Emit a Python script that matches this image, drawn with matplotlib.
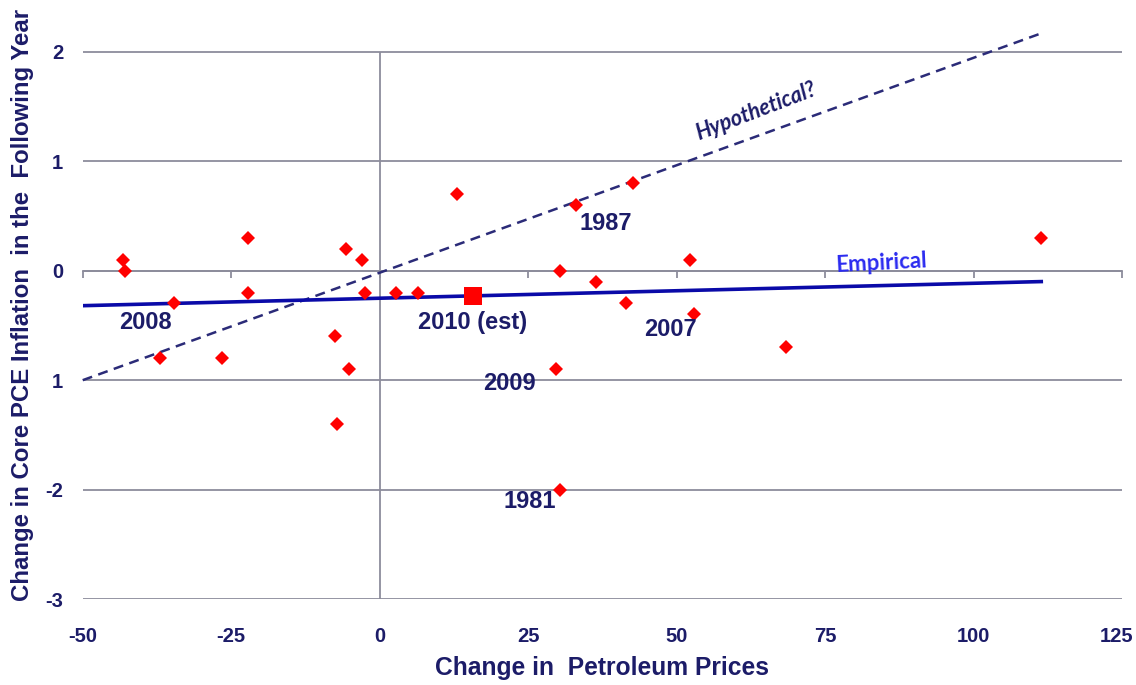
# Oil price changes vs. following-year change in core PCE inflation

import matplotlib
matplotlib.use('Agg')
import matplotlib.pyplot as plt
from matplotlib.transforms import offset_copy

plt.rcParams['axes.unicode_minus'] = False

# change in petroleum prices (%) and change in core PCE inflation next year
oil_change = [-43.2, -42.8, -34.7, -37.0, -22.1, -22.1, -26.6, -5.6, -2.9, -2.5,
              -7.5, -5.1, -7.2, 2.8, 6.4, 13.0, 33.1, 42.6, 30.4, 36.4,
              41.5, 52.3, 52.9, 68.4, 29.7, 30.4, 111.4]
pce_change = [0.1, 0.0, -0.3, -0.8, 0.3, -0.2, -0.8, 0.2, 0.1, -0.2,
              -0.6, -0.9, -1.4, -0.2, -0.2, 0.7, 0.6, 0.8, 0.0, -0.1,
              -0.3, 0.1, -0.4, -0.7, -0.9, -2.0, 0.3]

# 2010 estimate
est_x = [15.7]
est_y = [-0.23]

# fitted lines (end points)
emp_x = [-50, 111.4]
emp_y = [-0.32, -0.10]
hyp_x = [-50, 111.6]
hyp_y = [-1.0, 2.17]

# year labels
year_text = ['2008', '2010 (est)', '2009', '1981', '1987', '2007']
year_x = [-39.4, 15.7, 21.9, 25.3, 38.1, 48.9]
year_y = [-0.47, -0.47, -1.03, -2.11, 0.43, -0.54]

x_ticks = [-50, -25, 0, 25, 50, 75, 100, 125]
y_ticks = [-3, -2, -1, 0, 1, 2]
y_tick_labels = ['-3', '-2', '1', '0', '1', '2']

navy = '#1c1c68'
grid_c = '#8c8c9c'

fig = plt.figure(figsize=(11.36, 6.85), dpi=100)
ax = fig.add_axes([0.0728, 0.1251, 0.9149, 0.8397])
ax.set_xlim(-50, 125)
ax.set_ylim(-3, 2.25)

for s in ax.spines.values():
    s.set_visible(False)

ax.set_yticks(y_ticks)
ax.set_yticklabels(y_tick_labels)
ax.set_xticks(x_ticks)
ax.tick_params(axis='both', length=0, labelcolor=navy)
ax.tick_params(axis='y', labelsize=14.5, pad=14)
ax.tick_params(axis='x', labelsize=14.5, pad=20)
for lab in ax.get_xticklabels() + ax.get_yticklabels():
    lab.set_fontweight('bold')
    lab.set_family('Liberation Sans')
ax.grid(axis='y', color=grid_c, linewidth=1.3)
ax.set_axisbelow(True)

# keep the last x label inside the figure
last = ax.xaxis.get_major_ticks()[-1].label1
last.set_transform(offset_copy(last.get_transform(), fig=fig, x=-5, units='dots'))

# vertical axis line at x = 0
ax.vlines(0, -3, 2, color=grid_c, linewidth=1.3, zorder=1)

# axis along y = 0 with small tick marks
sec = ax.secondary_xaxis(0, transform=ax.transData)
sec.set_xticks(x_ticks)
sec.tick_params(length=5, width=1.3, color=grid_c, labelbottom=False, direction='out')
sec.spines['bottom'].set_color(grid_c)
sec.spines['bottom'].set_linewidth(1.3)

ax.plot(hyp_x, hyp_y, color='#2b2b78', linewidth=1.8, linestyle=(0, (4, 2.6)),
        clip_on=False, zorder=2)
ax.plot(emp_x, emp_y, color='#0a0aa8', linewidth=2.6, zorder=3)

ax.plot(oil_change, pce_change, linestyle='none', marker='D', markersize=7,
        color='#ff0000', markeredgewidth=0, zorder=4)
ax.plot(est_x, est_y, linestyle='none', marker='s', markersize=12.5,
        color='#ff0000', markeredgewidth=0, zorder=4)

for t, x, y in zip(year_text, year_x, year_y):
    ax.text(x, y, t, ha='center', va='center', fontsize=17, fontweight='bold',
            color=navy, family='Liberation Sans', zorder=5)

ax.text(63.4, 1.45, 'Hypothetical?', rotation=21, ha='center', va='center',
        fontsize=15.5, fontweight='bold', fontstyle='italic', color=navy, family='Lato')
ax.text(84.5, 0.07, 'Empirical', rotation=3, ha='center', va='center',
        fontsize=16, fontweight='bold', color='#2b2bf0', family='Lato')

ax.set_xlabel('Change in  Petroleum Prices', fontsize=17.7, fontweight='bold',
              color=navy, family='Liberation Sans', labelpad=7)
ax.set_ylabel('Change in Core PCE Inflation  in the  Following Year', fontsize=17.3,
              fontweight='bold', color=navy, family='Liberation Sans')
ax.yaxis.set_label_coords(-0.047, 0.512)

fig.savefig('out.png', dpi=100)
